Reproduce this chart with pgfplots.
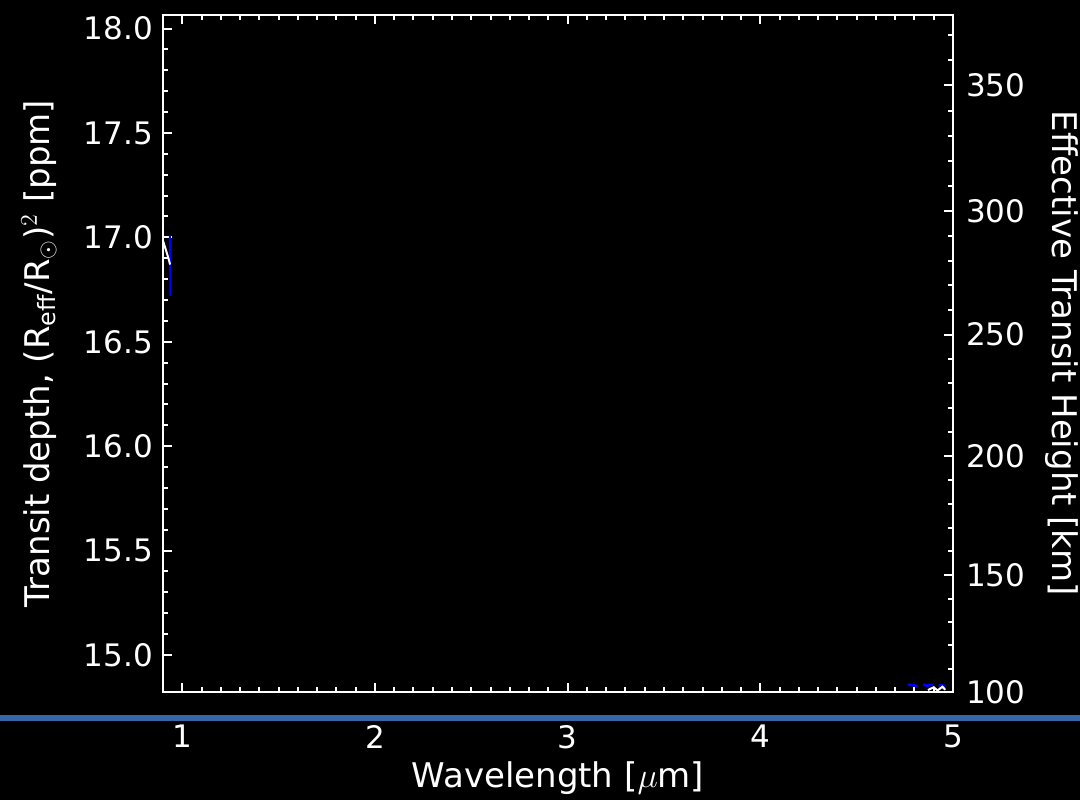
\documentclass[border=0pt]{standalone}
\usepackage{pgfplots}
\pgfplotsset{compat=1.18}
\usepackage{fontspec}
\setmainfont{DejaVu Sans}
\definecolor{sepblue}{RGB}{52,102,168}

\pgfplotsset{
  idlframe/.style={
    at={(0,0)}, anchor=south west,
    width=395pt, height=338.5pt, scale only axis,
    xmin=0.9, xmax=5, ymin=14.8225, ymax=18.065,
    axis line style={white, line width=1.3pt},
    tick style={white, line width=1pt},
    major tick length=4.5pt, minor tick length=2.5pt,
    tick align=inside,
    ticklabel style={white, font=\fontsize{15.5}{18}\selectfont},
    label style={white, font=\fontsize{17}{20}\selectfont},
    /pgf/number format/assume math mode=true,
  }
}

\begin{document}
\begin{tikzpicture}
\useasboundingbox (-81.5pt,-54pt) rectangle (458.5pt,346pt);
\fill[black] (-81.5pt,-54pt) rectangle (458.5pt,346pt);

\begin{axis}[
  idlframe,
  xtick={1,2,3,4,5}, minor x tick num=9,
  xtick pos=both, xticklabel pos=lower,
  ytick={15,15.5,...,18}, minor y tick num=4,
  ytick pos=left,
  xticklabel style={yshift=-13pt},
  yticklabel style={xshift=-1.5pt, /pgf/number format/.cd, fixed, fixed zerofill, precision=1},
  xlabel={Wavelength [$\mu$m]},
  xlabel style={at={(rel axis cs:0.5,0)}, anchor=center, yshift=-43pt},
  ylabel={Transit depth, (R\textsubscript{eff}/R$_\odot$)$^2$ [ppm]},
  ylabel style={at={(rel axis cs:0,0.5)}, anchor=center, yshift=62pt},
]
% spectrum, visible only where it enters the plotted range
\addplot[blue, line width=1pt] coordinates {
(0.936,17.010) (0.937,16.900) (0.938,16.800) (0.939,16.720)
};
\addplot[white, line width=1pt] coordinates {
(0.898,16.990) (0.915,16.940) (0.928,16.900) (0.937,16.870)
};
\addplot[blue, line width=1.3pt, dash pattern=on 5pt off 3pt] coordinates {
(4.765,14.858) (4.790,14.855) (4.815,14.851) (4.840,14.860)
(4.865,14.853) (4.890,14.857) (4.915,14.849) (4.940,14.856) (4.958,14.850)
};
\addplot[white, line width=1pt] coordinates {
(4.870,14.832) (4.900,14.845) (4.920,14.830) (4.945,14.848) (4.960,14.833)
};
\end{axis}

\begin{axis}[
  idlframe,
  hide x axis,
  axis y line*=right,
  ytick={14.8227,15.3829,15.9535,16.5345,17.1258,17.7275},
  yticklabels={100,150,200,250,300,350},
  minor ytick={14.9340,15.0456,15.1576,15.2700,15.4962,15.6099,15.7240,15.8386,
    16.0689,16.1846,16.3008,16.4174,16.6519,16.7698,16.8880,17.0067,
    17.2453,17.3652,17.4856,17.6063,17.8491,17.9711},
  yticklabel style={xshift=3pt},
  ylabel={Effective Transit Height [km]},
  ylabel style={at={(rel axis cs:1,0.5)}, anchor=center, yshift=-54.5pt, rotate=180},
]
\end{axis}

\draw[sepblue, line width=2.7pt] (-81.5pt,-13pt) -- (458.5pt,-13pt);
\end{tikzpicture}
\end{document}
